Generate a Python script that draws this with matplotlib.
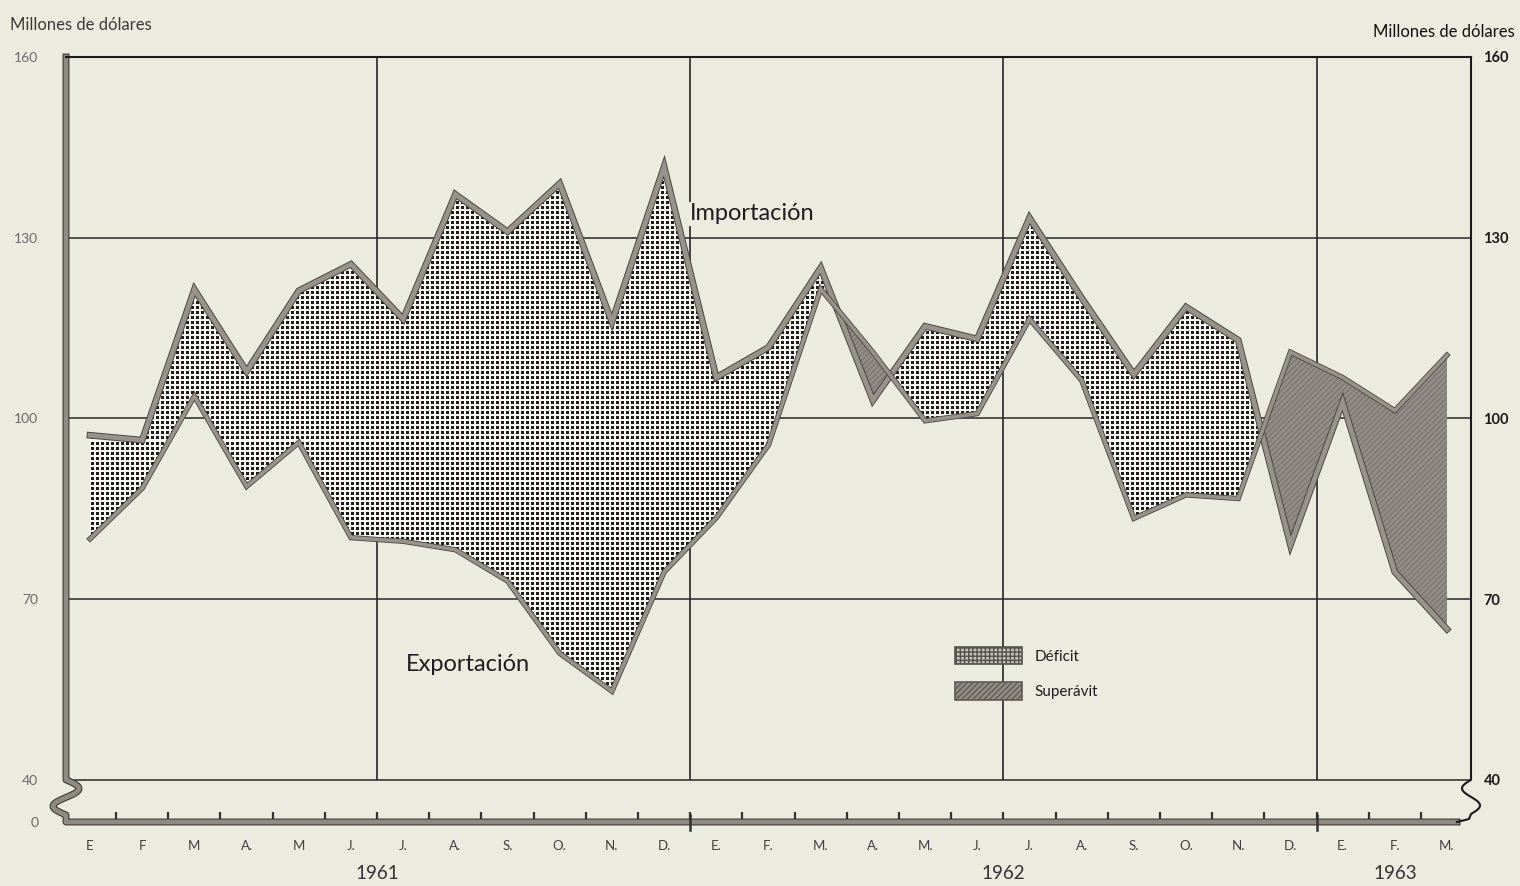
import numpy as np
import matplotlib
matplotlib.use('Agg')
import matplotlib.pyplot as plt
from matplotlib.path import Path
from matplotlib.patches import Patch
import matplotlib.patheffects as pe
import matplotlib.transforms as mtransforms

# ---------------- data ----------------
months = ['E', 'F', 'M', 'A.', 'M', 'J.', 'J.', 'A.', 'S.', 'O.', 'N.', 'D.',
          'E.', 'F.', 'M.', 'A.', 'M.', 'J.', 'J.', 'A.', 'S.', 'O.', 'N.', 'D.',
          'E.', 'F.', 'M.']
years = ['1961', '1962', '1963']
importacion = [97.2, 96.4, 121.4, 107.8, 121.2, 125.6, 116.5, 137.2, 131.0, 139.0, 116.0, 141.8,
               106.8, 111.8, 125.0, 103.0, 115.3, 113.2, 133.3, 120.0, 107.3, 118.5, 113.0, 79.0,
               102.7, 74.5, 65.0]
exportacion = [80.0, 88.4, 103.7, 88.7, 96.0, 80.2, 79.6, 78.2, 73.0, 61.0, 54.7, 74.5,
               83.5, 95.6, 121.5, 111.0, 99.6, 100.8, 116.5, 106.3, 83.4, 87.3, 86.7, 111.0,
               106.8, 101.3, 110.5]
ytick_vals = [40, 70, 100, 130, 160]
ytick_labels = ['40', '70', '100', '130', '160']

# ---------------- style ----------------
W, H = 1520, 886
BG = '#ECEBDF'
FONT = ['Lato', 'DejaVu Sans']
plt.rcParams['font.family'] = FONT

fig = plt.figure(figsize=(W / 100, H / 100), dpi=100, facecolor=BG)
ax_l, ax_b, ax_w, ax_h = 66, 64, 1405, 765
ax = fig.add_axes([ax_l / W, ax_b / H, ax_w / W, ax_h / H])
ax.set_facecolor(BG)

n = len(months)
x = np.arange(n)
imp = np.array(importacion)
exp_ = np.array(exportacion)
XMIN, XMAX = -0.46, n - 1 + 0.46
YZERO, YTOP = 33, 160   # y=33 stands for the broken "0" baseline

# grid
ax.hlines(ytick_vals, XMIN, XMAX, colors='#262626', lw=1.1, zorder=1)
ax.vlines([6 * k - 0.5 for k in range(1, 5)], 40, 160, colors='#262626', lw=1.2, zorder=1)

# dotted texture for deficit
yy, xx = np.mgrid[0:ax_h, 0:ax_w]
dots = ((xx % 5) < 3) & ((yy % 5) < 3)
tex = np.empty((ax_h, ax_w, 3))
tex[:] = np.array([248, 247, 241]) / 255
tex[dots] = np.array([28, 28, 28]) / 255
def_coll = ax.fill_between(x, exp_, imp, where=imp >= exp_, interpolate=True,
                           facecolor='none', edgecolor='none', zorder=2, label='_nolegend_')
im = ax.imshow(tex, extent=(XMIN, XMAX, YZERO, YTOP), origin='upper', aspect='auto',
               interpolation='nearest', zorder=2)
cp = Path.make_compound_path(*def_coll.get_paths())
im.set_clip_path(cp, transform=ax.transData)

# superavit
ax.fill_between(x, imp, exp_, where=exp_ > imp, interpolate=True,
                facecolor='#928e87', edgecolor='#7b7771', hatch='//////', linewidth=0, zorder=2)

# lines
ax.plot(x, imp, color='#97938b', lw=3.4, solid_joinstyle='miter', zorder=4,
        path_effects=[pe.Stroke(linewidth=4.8, foreground='#4a4742'), pe.Normal()])
ax.plot(x, exp_, color='#97938b', lw=2.6, solid_joinstyle='miter', zorder=4,
        path_effects=[pe.Stroke(linewidth=3.8, foreground='#4a4742'), pe.Normal()])

ax.set_xlim(XMIN, XMAX)
ax.set_ylim(YZERO, YTOP)
for s in ax.spines.values():
    s.set_visible(False)

# frame: left thick bar with break, bottom thick bar
y40 = (40 - YZERO) / (YTOP - YZERO) * ax_h
t = np.linspace(0, 1, 40)
sq_y = y40 - (y40 - 7) * t
sq_x = 13 * np.sin(2 * np.pi * t)
lx = np.concatenate([[0, 0], sq_x, [0, 0, 1391]])
ly = np.concatenate([[ax_h, y40], sq_y, [7, 0, 0]])
ax.plot(lx / ax_w, ly / ax_h, transform=ax.transAxes, clip_on=False, color='#8f8b83',
        lw=3.4, solid_joinstyle='round', zorder=5,
        path_effects=[pe.Stroke(linewidth=5.0, foreground='#3d3a36'), pe.Normal()])
# right thin line with break
rx = np.concatenate([[ax_w, ax_w], ax_w - 9 * np.sin(2 * np.pi * t), [ax_w - 2, 1391]])
ry = np.concatenate([[ax_h, y40], y40 - (y40 - 8) * t, [3, 0]])
ax.plot(rx / ax_w, ry / ax_h, transform=ax.transAxes, clip_on=False, color='#1a1a1a',
        lw=1.5, zorder=5)
# top line
ax.plot([0, 1], [1, 1], transform=ax.transAxes, clip_on=False, color='#1a1a1a', lw=1.5, zorder=5)

# x ticks / labels
ax.set_xticks(x, months)
ax.set_xticks(x[:-1] + 0.5, minor=True)
ax.tick_params(axis='x', which='major', length=0, pad=13, labelsize=9.5, labelcolor='#3f3f3f')
ax.tick_params(axis='x', which='minor', direction='in', length=7, width=1.6, color='#333333')
for k in (1, 2):
    ax.plot([12 * k - 0.5] * 2, [YZERO - 1.4, YZERO + 1.2], color='#333333', lw=1.8,
            clip_on=False, zorder=6)

blend = mtransforms.blended_transform_factory(ax.transData, ax.transAxes)
year_centers = [5.5, 17.5, (24 + n - 1) / 2]
for yc, yl in zip(year_centers, years):
    ax.text(yc, -0.067, yl, transform=blend, ha='center', va='center', fontsize=13.5,
            color='#333333')

# y ticks
ax.set_yticks([YZERO] + ytick_vals, ['0'] + ytick_labels)
ax.tick_params(axis='y', length=0, pad=20, labelsize=10, labelcolor='#6a6a6a')
ax2 = ax.twinx()
ax2.set_ylim(YZERO, YTOP)
ax2.set_yticks(ytick_vals, ytick_labels)
ax2.tick_params(axis='y', length=0, pad=9, labelsize=10.5, labelcolor='#1a1a1a')
for s in ax2.spines.values():
    s.set_visible(False)
for lab in ax2.get_yticklabels():
    lab.set_fontweight('bold')

# annotations
ax.text(11.5, 134.0, 'Importación', fontsize=17, ha='left', va='center', color='#1e1e1e',
        zorder=3, bbox=dict(facecolor=BG, edgecolor='none', pad=1))
ax.text(6.05, 59.2, 'Exportación', fontsize=17, ha='left', va='center', color='#1e1e1e', zorder=3)

fig.text(10 / W, 1 - 25 / H, 'Millones de dólares', fontsize=12, ha='left', va='center',
         color='#3a3a3a')
fig.text(1515 / W, 1 - 32 / H, 'Millones de dólares', fontsize=12, ha='right', va='center',
         color='#111111')

# legend
handles = [Patch(facecolor='#c4c1b8', edgecolor='#55524d', hatch='++++', lw=1.2, label='Déficit'),
           Patch(facecolor='#928e87', edgecolor='#5e5a55', hatch='//////', lw=1.2, label='Superávit')]
leg = ax.legend(handles=handles, loc='upper left',
                bbox_to_anchor=((955 - ax_l) / ax_w, (822 - 647) / ax_h),
                frameon=False, fontsize=11, handlelength=4.4, handleheight=1.35,
                handletextpad=0.8, labelspacing=1.2, borderpad=0, borderaxespad=0)
for txt in leg.get_texts():
    txt.set_color('#1e1e1e')

fig.savefig('out.png', dpi=100, facecolor=BG)
